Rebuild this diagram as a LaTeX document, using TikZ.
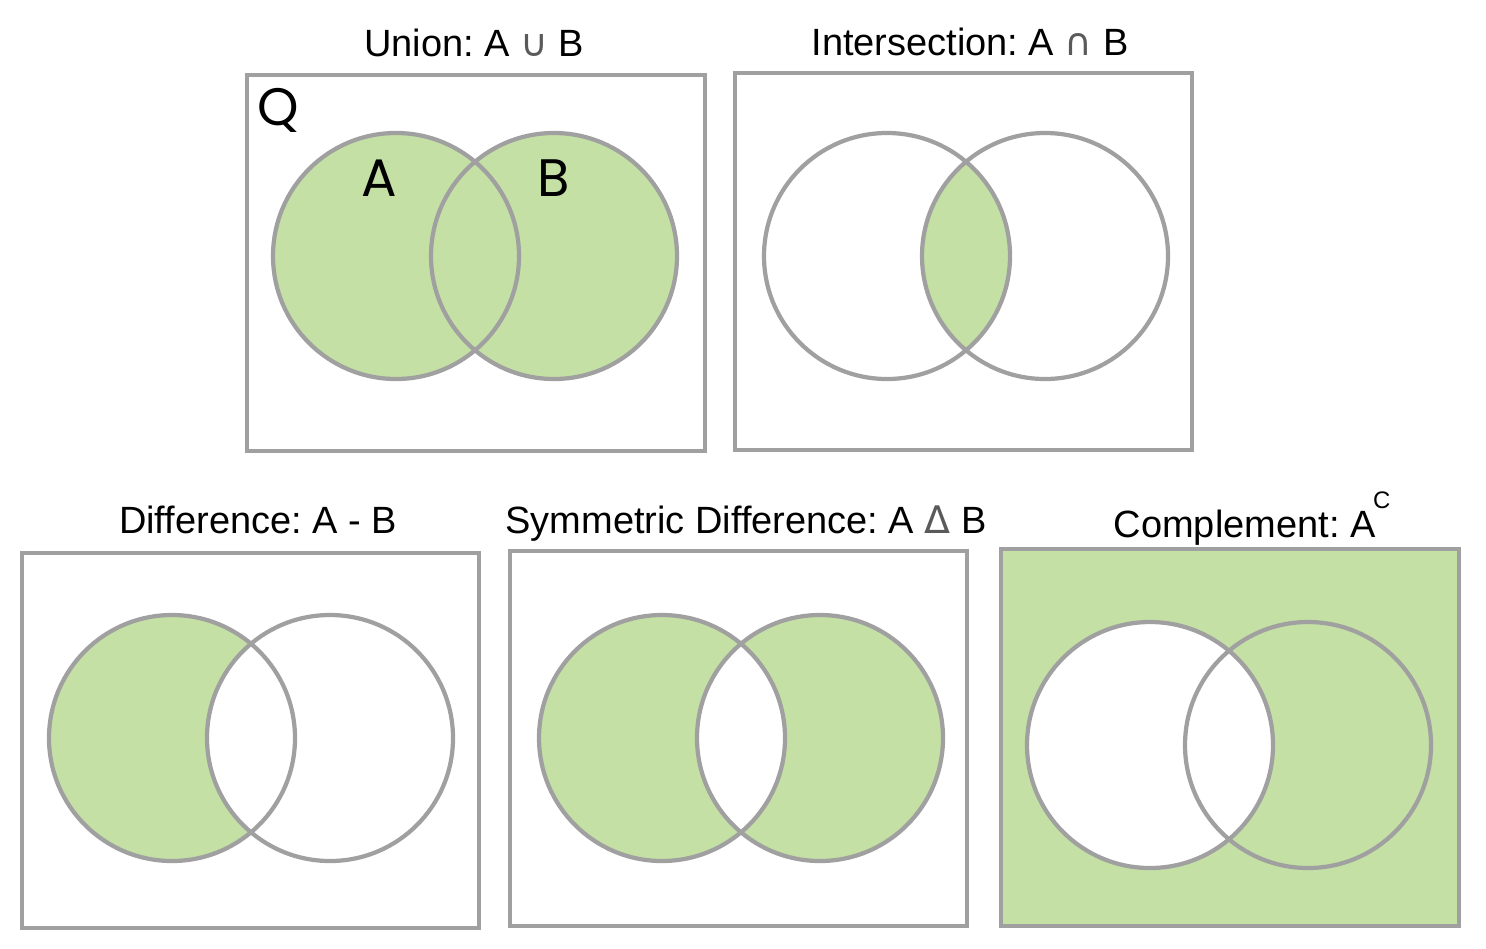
\documentclass[tikz,border=0pt]{standalone}
\usepackage{fontspec}
\setmainfont{Liberation Sans}
\newfontfamily\symfont{DejaVu Sans}
\newfontfamily\labelfont{Poppins}
\usetikzlibrary{positioning}
\frenchspacing
\definecolor{setgreen}{RGB}{196,224,165}
\definecolor{setgray}{RGB}{160,160,160}
\definecolor{opgray}{RGB}{90,90,90}
\tikzset{
  panel/.style={draw=setgray, line width=1.2pt},
  ring/.style={draw=setgray, line width=1.2pt},
  title/.style={font=\fontsize{10.8}{13}\selectfont, inner sep=0pt, anchor=base},
  setlabel/.style={font=\labelfont\fontsize{15}{17}\selectfont, inner sep=0pt, anchor=base},
}
\newcommand{\opsym}[1]{{\symfont\color{opgray}#1}}
\newcommand{\setrad}{123}

\begin{document}
\begin{tikzpicture}[x=0.01cm, y=-0.01cm]
        \useasboundingbox (0,0) rectangle (1486,948);

        % Union
        \node (uniontitle) [title] at (474,56) {Union: A \opsym{∪} B};
        \fill[setgreen] (396,256) circle (\setrad) (554,256) circle (\setrad);
        \draw[panel] (247,75) rectangle (705,451);
        \draw[ring] (396,256) circle (\setrad);
        \draw[ring] (554,256) circle (\setrad);
        \node (univ) [setlabel] at (278,125) {Q};
        \node (seta) [setlabel] at (379,196) {A};
        \node (setb) [setlabel] at (554,196) {B};

        % Intersection
        \node (intertitle) [title] at (970,55) {Intersection: A \opsym{∩} B};
        \begin{scope}
          \clip (887,256) circle (\setrad);
          \fill[setgreen] (1045,256) circle (\setrad);
        \end{scope}
        \draw[panel] (735,73) rectangle (1192,450);
        \draw[ring] (887,256) circle (\setrad);
        \draw[ring] (1045,256) circle (\setrad);

        % Difference
        \node (difftitle) [title] at (258,533) {Difference: A - B};
        \fill[setgreen] (172,738) circle (\setrad);
        \fill[white] (330,738) circle (\setrad);
        \draw[panel] (22,553) rectangle (479,928);
        \draw[ring] (172,738) circle (\setrad);
        \draw[ring] (330,738) circle (\setrad);

        % Symmetric difference
        \node (symtitle) [title] at (746,533) {Symmetric Difference: A \opsym{Δ} B};
        \fill[setgreen, even odd rule] (662,738) circle (\setrad) (820,738) circle (\setrad);
        \draw[panel] (510,551) rectangle (967,926);
        \draw[ring] (662,738) circle (\setrad);
        \draw[ring] (820,738) circle (\setrad);

        % Complement
        \node (comptitle) [title] at (1252,537) {Complement: A\kern-0.7pt\raisebox{8pt}{\fontsize{6.8}{7}\selectfont C}};
        \fill[setgreen] (1001,549) rectangle (1459,926);
        \fill[white] (1150,745) circle (\setrad);
        \draw[panel] (1001,549) rectangle (1459,926);
        \draw[ring] (1150,745) circle (\setrad);
        \draw[ring] (1308,745) circle (\setrad);
      \end{tikzpicture}
\end{document}
